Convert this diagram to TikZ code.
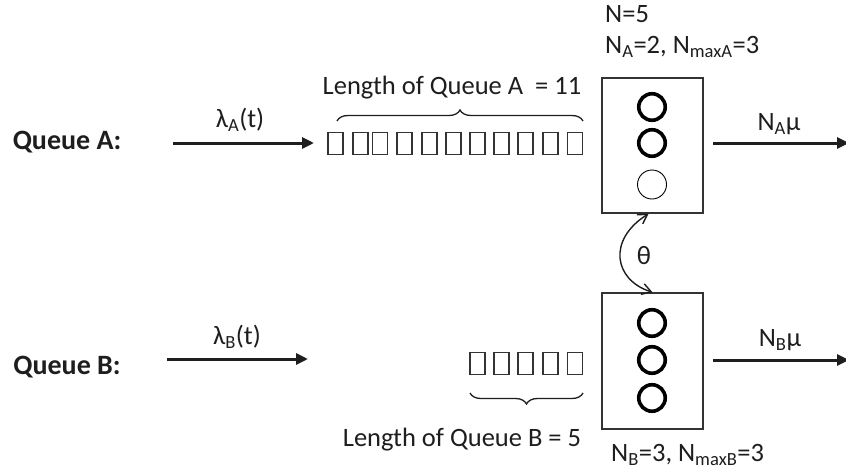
\documentclass[tikz,border=0pt]{standalone}
\usepackage{fontspec}
\setmainfont{Carlito}
\usetikzlibrary{arrows.meta,decorations.pathreplacing}
\newcommand{\lsub}[1]{\textsubscript{#1}}
\definecolor{ink}{HTML}{1E1E1E}
\definecolor{edge}{HTML}{333333}
\begin{document}
\begin{tikzpicture}[x=1pt,y=-1pt,
  txt/.style={text=ink,inner sep=0pt,font=\fontsize{26.5}{30}\selectfont},
  lbl/.style={text=ink,inner sep=0pt,font=\fontsize{28}{32}\selectfont\bfseries},
  flow/.style={draw=ink,line width=3pt,-{Triangle[length=12pt,width=11pt]}},
  qbox/.style={draw=edge,line width=1.4pt,minimum width=15pt,minimum height=21.5pt,inner sep=0pt},
  server/.style={draw=edge,line width=1.5pt,minimum width=101pt,inner sep=0pt},
  busy/.style={draw=black,line width=3.6pt,minimum size=26.5pt,circle,inner sep=0pt},
  idle/.style={draw=black,line width=0.9pt,minimum size=29pt,circle,inner sep=0pt},
  brc/.style={draw=ink,line width=1.3pt,decorate,decoration={brace,amplitude=11pt}}]
\useasboundingbox (0,0) rectangle (846,471);
\fill[white] (0,0) rectangle (846,471);

% labels
\node[lbl] (labA) at (67,142) {Queue A:};
\node[lbl] (labB) at (67,367) {Queue B:};

% arrivals
\coordinate (inA0) at (173,143);
\coordinate (inA1) at (314,143);
\coordinate (inB0) at (167,359);
\coordinate (inB1) at (308,359);
\draw[flow] (inA0) -- (inA1);
\draw[flow] (inB0) -- (inB1);
\node[txt] (lamA) at (240,120) {λ\lsub{A}(t)};
\node[txt] (lamB) at (237,337) {λ\lsub{B}(t)};

% queue A boxes
\foreach \x [count=\i] in {335.5,360.5,380,404.5,429.5,453.5,477.5,501.5,525.5,550.5,575}
  \node[qbox] (qA\i) at (\x,143.5) {};
% queue B boxes
\foreach \x [count=\i] in {477.5,501.5,525.5,550.5,575}
  \node[qbox] (qB\i) at (\x,363.5) {};

% braces
\coordinate (bA0) at (337,121);
\coordinate (bA1) at (583,121);
\draw[brc] (bA0) -- (bA1);
\node[txt] (lenA) at (452,88) {Length of Queue A \ = 11};
\coordinate (bB0) at (583,393);
\coordinate (bB1) at (470,393);
\draw[brc] (bB0) -- (bB1);
\node[txt] (lenB) at (462,440) {Length of Queue B = 5};

% servers
\node[server,minimum height=135pt] (boxA) at (652.5,145.5) {};
\node[server,minimum height=136pt] (boxB) at (652.5,361) {};
\node[busy] (cA1) at (652,107) {};
\node[busy] (cA2) at (652,143) {};
\node[idle] (cA3) at (652,184.5) {};
\node[busy] (cB1) at (652,323) {};
\node[busy] (cB2) at (652,360) {};
\node[busy] (cB3) at (652,398) {};

% server texts
\node[txt,anchor=west] (N) at (605,14) {N=5};
\node[txt,anchor=west] (NA) at (605,47) {N\lsub{A}=2, N\lsub{maxA}=3};
\node[txt,anchor=west] (NB) at (611,455) {N\lsub{B}=3, N\lsub{maxB}=3};

% departures
\coordinate (outA0) at (713,143);
\coordinate (outA1) at (849,143);
\coordinate (outB0) at (713,360);
\coordinate (outB1) at (849,360);
\draw[flow] (outA0) -- (outA1);
\draw[flow] (outB0) -- (outB1);
\node[txt] (muA) at (779,124) {N\lsub{A}μ};
\node[txt] (muB) at (780,340) {N\lsub{B}μ};

% theta exchange
\coordinate (thA) at ([xshift=-4pt]boxA.south);
\coordinate (thB) at (boxB.north);
\draw[draw=ink,line width=1.4pt,{Straight Barb[length=9pt,width=11pt]}-{Straight Barb[length=9pt,width=11pt]}]
  (thA) .. controls (607,240) and (614,280) .. (thB);
\node[txt] (theta) at (644,256) {θ};
\end{tikzpicture}
\end{document}
